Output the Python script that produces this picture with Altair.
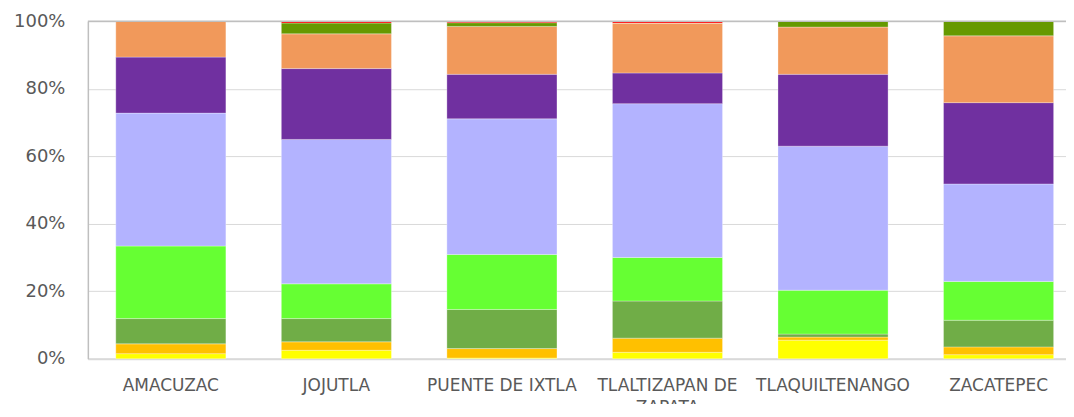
import altair as alt
import pandas as pd

municipios = ["AMACUZAC", "JOJUTLA", "PUENTE DE IXTLA", "TLALTIZAPAN DE ZAPATA",
              "TLAQUILTENANGO", "ZACATEPEC"]

series = ["Serie 1", "Serie 2", "Serie 3", "Serie 4", "Serie 5",
          "Serie 6", "Serie 7", "Serie 8", "Serie 9"]
colors = ["#FFFF00", "#FFC000", "#70AD47", "#66FF33", "#B3B3FF",
          "#7030A0", "#F1995B", "#669900", "#FF0000"]

s1 = [1.5, 2.5, 0.2, 1.9, 5.5, 1.2]
s2 = [2.9, 2.5, 2.8, 4.2, 0.9, 2.3]
s3 = [7.5, 6.9, 11.6, 11.0, 0.9, 7.9]
s4 = [21.5, 10.3, 16.3, 12.9, 13.0, 11.5]
s5 = [39.4, 42.8, 40.2, 45.6, 42.7, 28.9]
s6 = [16.6, 21.0, 13.2, 9.1, 21.3, 24.1]
s7 = [10.6, 10.3, 14.2, 14.8, 14.0, 19.8]
s8 = [0.0, 3.2, 1.1, 0.0, 1.7, 4.3]
s9 = [0.0, 0.5, 0.4, 0.5, 0.0, 0.0]

values = [s1, s2, s3, s4, s5, s6, s7, s8, s9]
y_ticks = [0, 0.2, 0.4, 0.6, 0.8, 1.0]

rows = []
for i, m in enumerate(municipios):
    for k, (name, vals) in enumerate(zip(series, values)):
        rows.append({"municipio": m, "serie": name, "orden": k, "valor": vals[i]})
df = pd.DataFrame(rows)

FONT = "DejaVu Sans"
GREY = "#595959"

bars = alt.Chart(df).mark_bar(stroke="white", strokeWidth=0.6, strokeOpacity=0.5).encode(
    x=alt.X(
        "municipio:N", sort=municipios, title=None,
        scale=alt.Scale(paddingInner=0.335, paddingOuter=0.1218, align=0.693),
        axis=alt.Axis(
            labelAngle=0, labelFont=FONT, labelFontSize=17, labelColor=GREY,
            ticks=False, domainColor="#D9D9D9", domainWidth=2, labelPadding=19,
            labelLineHeight=22, labelLimit=0, labelOverlap=False,
            labelExpr="datum.label == 'TLALTIZAPAN DE ZAPATA' ? ['TLALTIZAPAN DE', 'ZAPATA'] : datum.label",
        ),
    ),
    y=alt.Y(
        "valor:Q", stack="normalize", title=None,
        scale=alt.Scale(domain=[0, 1], nice=False),
        axis=alt.Axis(
            format=".0%", values=y_ticks, labelFont=FONT, labelFontSize=18,
            labelColor=GREY, ticks=False, domainColor="#BFBFBF", domainWidth=1.5,
            gridColor="#D9D9D9", gridWidth=1, labelPadding=23,
        ),
    ),
    color=alt.Color("serie:N", scale=alt.Scale(domain=series, range=colors), legend=None),
    order=alt.Order("orden:Q"),
)

top_rule = alt.Chart(pd.DataFrame({"v": [1.0]})).mark_rule(color="#BFBFBF", strokeWidth=1.5).encode(
    y=alt.Y("v:Q")
)

chart = alt.layer(bars, top_rule).properties(
    width=980, height=338,
    padding={"left": 80, "top": 13, "right": 0, "bottom": 45},
    autosize=alt.AutoSizeParams(type="none"),
).configure_view(stroke=None)

chart.save("out.html", embed_options={"renderer": "svg", "actions": False})
